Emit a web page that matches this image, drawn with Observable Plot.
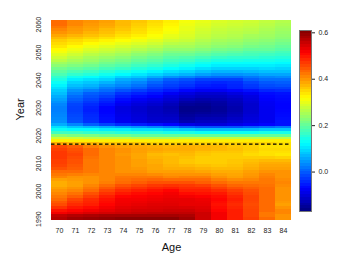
<!DOCTYPE html>
<html><head><meta charset="utf-8">
<script src="https://cdn.jsdelivr.net/npm/d3@7"></script>
<script src="https://cdn.jsdelivr.net/npm/@observablehq/plot@0.6"></script>
<style>
html,body{margin:0;padding:0;background:#fff;}
#wrap{position:relative;width:354px;height:266px;font-family:"Liberation Sans",Arial,sans-serif;}
#wrap svg{position:absolute;top:0;}
</style></head><body><div id="wrap"></div>
<script>
const ages = [70,71,72,73,74,75,76,77,78,79,80,81,82,83,84];
const yearTicks = [1990,2000,2010,2020,2030,2040,2050,2060];
const legendTicks = [0.0,0.2,0.4,0.6];
const forecastStart = 2017;
const zMin = -0.17, zMax = 0.61;
const jetColors = ["#00007F","#0000FF","#007FFF","#00FFFF","#7FFF7F","#FFFF00","#FF7F00","#FF0000","#7F0000"];
// value per year (rows) and age (columns 70..84)
const rows = {
2061:[.43,.41,.40,.39,.37,.36,.345,.33,.31,.30,.29,.285,.28,.27,.26],
2060:[.43,.41,.395,.385,.37,.355,.34,.325,.305,.295,.285,.28,.275,.265,.255],
2059:[.42,.40,.39,.38,.365,.35,.335,.32,.30,.29,.28,.275,.27,.26,.25],
2058:[.41,.395,.385,.37,.36,.345,.33,.315,.30,.285,.275,.27,.265,.255,.245],
2057:[.40,.39,.375,.365,.35,.34,.325,.31,.295,.28,.27,.265,.26,.25,.24],
2056:[.385,.375,.365,.355,.34,.33,.315,.30,.29,.275,.265,.26,.25,.245,.235],
2055:[.37,.36,.35,.34,.33,.32,.31,.295,.285,.27,.26,.255,.245,.24,.23],
2054:[.355,.345,.335,.325,.315,.305,.295,.28,.275,.26,.25,.245,.235,.23,.22],
2053:[.345,.335,.32,.31,.30,.29,.28,.265,.26,.25,.24,.235,.225,.22,.21],
2052:[.335,.32,.305,.295,.285,.275,.265,.25,.25,.24,.23,.225,.215,.21,.20],
2051:[.32,.305,.29,.28,.27,.26,.25,.235,.235,.225,.215,.21,.20,.20,.19],
2050:[.31,.295,.28,.27,.26,.245,.235,.22,.22,.21,.20,.195,.185,.185,.175],
2049:[.295,.28,.265,.255,.245,.23,.22,.205,.205,.195,.185,.18,.175,.17,.165],
2048:[.28,.265,.25,.24,.23,.215,.205,.19,.185,.175,.165,.16,.16,.155,.15],
2047:[.265,.25,.24,.225,.215,.20,.19,.175,.17,.155,.145,.145,.14,.14,.135],
2046:[.245,.235,.225,.21,.20,.185,.175,.16,.15,.135,.125,.125,.125,.125,.12],
2045:[.23,.22,.21,.195,.185,.17,.16,.145,.135,.12,.11,.11,.11,.11,.105],
2044:[.21,.20,.19,.175,.165,.15,.14,.125,.115,.10,.09,.09,.09,.095,.09],
2043:[.195,.18,.17,.155,.14,.13,.115,.10,.09,.075,.065,.065,.07,.075,.075],
2042:[.18,.16,.15,.135,.12,.105,.09,.075,.065,.05,.04,.04,.045,.055,.055],
2041:[.16,.135,.125,.11,.09,.08,.06,.04,.03,.015,.01,.01,.02,.03,.035],
2040:[.145,.11,.10,.09,.06,.05,.025,.00,-.01,-.024,-.024,-.024,.00,.013,.013],
2039:[.13,.09,.08,.065,.045,.03,.005,-.015,-.025,-.04,-.045,-.04,-.02,-.005,.00],
2038:[.115,.075,.065,.045,.03,.015,-.01,-.025,-.035,-.05,-.055,-.045,-.03,-.015,-.01],
2037:[.10,.06,.05,.025,.013,.00,-.024,-.036,-.048,-.06,-.06,-.048,-.036,-.024,-.024],
2036:[.085,.04,.025,.01,-.01,-.025,-.04,-.055,-.07,-.08,-.08,-.07,-.06,-.045,-.04],
2035:[.074,.025,.00,-.01,-.036,-.048,-.06,-.08,-.096,-.108,-.108,-.096,-.084,-.065,-.06],
2034:[.06,.01,-.01,-.025,-.05,-.065,-.075,-.095,-.11,-.12,-.12,-.11,-.095,-.07,-.065],
2033:[.05,.00,-.02,-.04,-.065,-.08,-.09,-.105,-.125,-.135,-.13,-.12,-.10,-.075,-.068],
2032:[.04,-.01,-.03,-.05,-.075,-.09,-.10,-.115,-.14,-.145,-.14,-.125,-.105,-.08,-.07],
2031:[.03,-.02,-.04,-.06,-.085,-.10,-.11,-.125,-.15,-.155,-.145,-.13,-.11,-.082,-.072],
2030:[.025,-.024,-.048,-.072,-.096,-.108,-.12,-.133,-.16,-.16,-.15,-.135,-.11,-.084,-.072],
2029:[.025,-.025,-.05,-.072,-.095,-.108,-.12,-.13,-.16,-.158,-.15,-.135,-.11,-.085,-.07],
2028:[.028,-.022,-.046,-.07,-.093,-.105,-.118,-.126,-.155,-.15,-.145,-.13,-.108,-.085,-.068],
2027:[.03,-.018,-.042,-.066,-.09,-.102,-.115,-.12,-.148,-.14,-.138,-.124,-.104,-.085,-.066],
2026:[.034,-.014,-.039,-.063,-.087,-.099,-.111,-.114,-.14,-.13,-.128,-.116,-.10,-.085,-.063],
2025:[.038,-.01,-.036,-.06,-.084,-.096,-.108,-.108,-.133,-.12,-.12,-.108,-.096,-.084,-.06],
2024:[.06,.03,.00,-.02,-.04,-.05,-.06,-.07,-.09,-.10,-.10,-.09,-.08,-.07,-.06],
2023:[.10,.08,.07,.06,.05,.04,.03,.02,.00,-.01,-.01,-.01,.00,.01,.02],
2022:[.13,.12,.12,.11,.11,.10,.10,.09,.08,.07,.07,.07,.07,.08,.08],
2021:[.17,.17,.16,.16,.15,.15,.15,.14,.14,.13,.13,.13,.13,.14,.14],
2020:[.23,.22,.22,.21,.21,.20,.20,.20,.20,.20,.20,.20,.20,.20,.20],
2019:[.28,.28,.27,.27,.27,.26,.26,.26,.27,.27,.27,.27,.27,.27,.27],
2018:[.33,.33,.33,.33,.33,.33,.33,.33,.33,.33,.33,.33,.33,.33,.33],
2017:[.38,.37,.37,.36,.36,.36,.35,.35,.35,.35,.35,.35,.35,.35,.34],
2016:[.455,.44,.415,.40,.39,.385,.38,.375,.378,.375,.37,.36,.353,.34,.34],
2015:[.464,.45,.43,.41,.40,.39,.385,.38,.38,.375,.37,.365,.355,.345,.345],
2014:[.47,.455,.43,.41,.40,.39,.38,.375,.375,.365,.36,.36,.35,.34,.34],
2013:[.47,.46,.43,.41,.395,.385,.37,.365,.37,.36,.355,.355,.345,.34,.335],
2012:[.47,.455,.425,.41,.40,.385,.375,.37,.365,.355,.355,.355,.355,.355,.35],
2011:[.465,.45,.42,.41,.40,.39,.38,.37,.36,.355,.355,.36,.365,.37,.37],
2010:[.465,.45,.42,.41,.40,.39,.38,.37,.36,.355,.355,.36,.37,.38,.38],
2009:[.46,.445,.42,.41,.40,.39,.385,.375,.37,.365,.36,.365,.375,.385,.385],
2008:[.45,.44,.42,.41,.40,.395,.385,.38,.38,.375,.37,.37,.38,.39,.39],
2007:[.43,.43,.42,.41,.40,.40,.39,.39,.39,.385,.38,.38,.39,.40,.40],
2006:[.42,.415,.41,.41,.41,.41,.405,.40,.40,.40,.39,.385,.395,.41,.40],
2005:[.41,.40,.40,.41,.42,.42,.42,.41,.415,.415,.40,.39,.40,.415,.40],
2004:[.39,.395,.40,.41,.425,.43,.435,.43,.43,.43,.415,.405,.41,.42,.405],
2003:[.38,.39,.40,.415,.43,.44,.45,.45,.45,.44,.43,.42,.42,.42,.41],
2002:[.38,.39,.41,.43,.45,.46,.47,.475,.47,.465,.45,.435,.43,.425,.405],
2001:[.39,.40,.42,.445,.465,.475,.485,.49,.48,.48,.465,.45,.44,.43,.40],
2000:[.40,.41,.43,.46,.48,.49,.50,.51,.49,.49,.48,.465,.45,.43,.40],
1999:[.41,.425,.45,.475,.495,.505,.51,.52,.505,.50,.495,.475,.455,.43,.40],
1998:[.42,.44,.465,.49,.51,.515,.52,.525,.52,.515,.505,.485,.46,.43,.40],
1997:[.43,.46,.48,.50,.52,.52,.525,.53,.53,.525,.51,.49,.46,.43,.40],
1996:[.445,.47,.485,.505,.522,.525,.53,.532,.53,.528,.505,.485,.458,.43,.395],
1995:[.455,.48,.49,.51,.525,.53,.535,.535,.53,.53,.50,.48,.455,.43,.39],
1994:[.475,.495,.505,.52,.532,.537,.54,.542,.54,.535,.505,.485,.458,.43,.40],
1993:[.50,.51,.52,.53,.54,.545,.545,.55,.55,.54,.51,.49,.46,.43,.41],
1992:[.52,.53,.54,.545,.55,.555,.56,.56,.56,.55,.52,.49,.46,.42,.41],
1991:[.56,.57,.575,.58,.58,.58,.58,.58,.575,.55,.52,.49,.46,.42,.40],
1990:[.57,.585,.59,.595,.60,.60,.60,.60,.585,.55,.52,.49,.465,.43,.40]
};

const cells = [];
for (const [yr, vals] of Object.entries(rows)) {
  vals.forEach((v, i) => cells.push({year: +yr, age: ages[i], v}));
}
const colorDomain = jetColors.map((_, i) => zMin + i * (zMax - zMin) / (jetColors.length - 1));
const colorScale = {type: "linear", domain: colorDomain, range: jetColors, interpolate: "rgb", clamp: true};
const font = '"Liberation Sans", Arial, sans-serif';

const main = Plot.plot({
  width: 300, height: 266,
  marginLeft: 51, marginRight: 9, marginTop: 20, marginBottom: 46,
  style: {fontFamily: font, fontSize: "7px", color: "#222", background: "transparent"},
  x: {domain: [69.5, 84.5], axis: null},
  y: {domain: [1989.5, 2061.5], axis: null},
  color: colorScale,
  marks: [
    Plot.rect(cells, {x1: d => d.age - 0.5, x2: d => d.age + 0.5, y1: d => d.year - 0.5, y2: d => d.year + 0.5, fill: "v", shapeRendering: "crispEdges"}),
    Plot.ruleY([forecastStart], {stroke: "#000", strokeWidth: 1.2, strokeDasharray: "3.5,2.5"}),
    Plot.axisX(ages, {tickSize: 0, tickPadding: 8, fontSize: 7, label: null}),
    Plot.text(yearTicks, {x: 69.5, y: d => d, dx: -12.5, rotate: -90, text: d => String(d), fontSize: 7, fill: "#222"}),
    Plot.text(["Age"], {frameAnchor: "bottom", dy: 30.5, text: d => d, fontSize: 11, fill: "#111"}),
    Plot.text(["Year"], {frameAnchor: "left", dx: -31, rotate: -90, text: d => d, fontSize: 11, fill: "#111"})
  ]
});
main.style.left = "0px";

const nSteps = 64;
const stepH = (zMax - zMin) / nSteps;
const steps = Array.from({length: nSteps}, (_, i) => zMin + (i + 0.5) * stepH);
const legend = Plot.plot({
  width: 64, height: 266,
  marginLeft: 9, marginRight: 43, marginTop: 30, marginBottom: 55,
  style: {fontFamily: font, fontSize: "7px", color: "#222", background: "transparent"},
  x: {domain: [0, 1], axis: null},
  y: {domain: [zMin, zMax], axis: null},
  color: colorScale,
  marks: [
    Plot.rect(steps, {x1: 0, x2: 1, y1: d => d - stepH / 2, y2: d => d + stepH / 2, fill: d => d, shapeRendering: "crispEdges"}),
    Plot.frame({stroke: "#777"}),
    Plot.axisY(legendTicks, {anchor: "right", tickSize: 3, tickPadding: 4, tickFormat: ".1f", fontSize: 7, label: null})
  ]
});
legend.style.left = "290px";

const wrap = document.getElementById("wrap");
wrap.appendChild(main);
wrap.appendChild(legend);
</script></body></html>
